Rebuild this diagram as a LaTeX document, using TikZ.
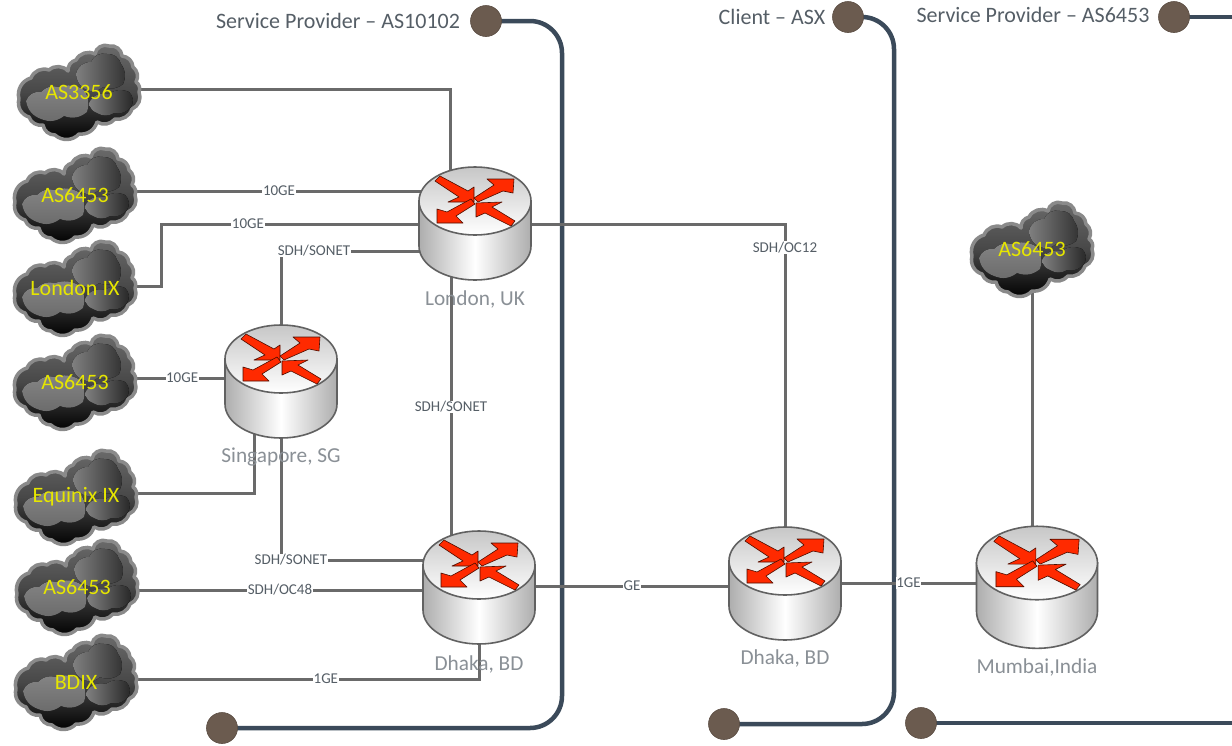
\documentclass[tikz,border=0pt]{standalone}
\usepackage{fontspec}
\setmainfont{Carlito}
\usetikzlibrary{backgrounds}
\definecolor{linkc}{HTML}{6A6A6A}
\definecolor{domc}{HTML}{3B4A5A}
\definecolor{dotc}{HTML}{6B5B4F}
\definecolor{arrowc}{HTML}{FF2A00}
\definecolor{yell}{HTML}{E6E600}
\definecolor{placec}{HTML}{8A9096}
\definecolor{headc}{HTML}{555E66}
\tikzset{
  link/.style={draw=linkc,line width=3pt},
  linklabel/.style={font=\fontsize{15}{16}\selectfont,text=headc,fill=white,inner sep=0.6pt},
  domline/.style={draw=domc,line width=4.5pt,rounded corners=32pt},
  dotn/.style={circle,fill=dotc,draw=dotc!85!black,line width=.6pt,minimum size=31pt,inner sep=0pt},
  headlabel/.style={font=\fontsize{22}{24}\selectfont,text=headc,inner sep=0pt},
  placelabel/.style={font=\fontsize{21.3}{24}\selectfont,text=placec,inner sep=0pt},
  cloudtext/.style={font=\fontsize{22}{24}\selectfont,text=yell,inner sep=0pt},
  arrowpoly/.style={fill=arrowc,draw=black!70!arrowc,line width=.6pt,line join=round},
  routerline/.style={draw=black!62,line width=1.6pt},
}
\newcommand{\routerart}[5]{%
 \begin{scope}[shift={(#2,#3)},xscale=#4,yscale=#4]
  \path[routerline,left color=black!32,right color=black!32,middle color=white]
    (-56,0) -- (-56,45) arc[start angle=180,end angle=0,x radius=56,y radius=34] -- (56,0) -- cycle;
  \path[routerline,top color=black!22,bottom color=white] (0,0) ellipse[x radius=56,y radius=34];
  \path[arrowpoly] (-40,-20) -- (-35,-25) -- (-7,-10) -- (-1,-14) -- (-1,1) -- (-27,1) -- (-16,-4) -- cycle;
  \path[arrowpoly] (3,1) -- (-1,-3) -- (19,-16) -- (12,-22) -- (39,-22) -- (38,-8) -- (28,-10) -- cycle;
  \path[arrowpoly] (-4,-2) -- (0,3) -- (-19,15) -- (-12,22) -- (-38,22) -- (-38,8) -- (-28,11) -- cycle;
  \path[arrowpoly] (40,20) -- (36,25) -- (10,12) -- (1,16) -- (1,2) -- (27,1) -- (17,6) -- cycle;
  \node[inner sep=0pt,minimum width=112pt,minimum height=68pt] (#1) at (0,0) {};
 \end{scope}
 \node[placelabel] (#1l) at (#2,#3+#5) {\addlabel};}
\newcommand{\addlabel}{}
\newcommand{\router}[6]{\renewcommand{\addlabel}{#6}\routerart{#1}{#2}{#3}{#4}{#5}}
\newcommand{\cloud}[4]{%
 \begin{scope}[shift={(#2,#3)}]
  \path[draw=black!46,line width=3.5pt,line join=round,top color=black!58,bottom color=black,middle color=black!72]
   (-60,7) to[bend left=45] (-48,-14) to[bend left=45] (-30,-22) to[bend left=45] (-11,-21)
   to[bend left=40] (-3,-32) to[bend left=45] (16,-38) to[bend left=55] (30,-46) to[bend left=50] (43,-36)
   to[bend left=40] (54,-25) to[bend left=40] (57,-10) to[bend left=40] (60,0) to[bend left=45] (53,17)
   to[bend left=40] (36,27) to[bend left=40] (18,30) to[bend left=40] (0,42) to[bend left=45] (-24,43)
   to[bend left=40] (-36,33) to[bend left=40] (-50,25) to[bend left=45] (-60,7);
  \fill[top color=black!48,bottom color=black!58]
   (-53,9) to[bend left=40] (-38,0) to[bend left=30] (-20,-5) to[bend left=25] (5,-2) to[bend left=25] (8,20)
   to[bend left=30] (-15,24) to[bend left=30] (-38,27) to[bend left=30] (-53,9);
  \fill[left color=black!50,right color=black!80]
   (-3,-18) to[bend left=40] (12,-30) to[bend left=40] (28,-38) to[bend left=40] (42,-28) to[bend left=30] (44,-8)
   to[bend left=30] (24,-5) to[bend left=30] (8,-2) to[bend left=30] (-3,-18);
  \fill[left color=black!50,right color=black!85]
   (10,11) to[bend left=40] (30,2) to[bend left=30] (50,0) to[bend left=40] (52,15) to[bend left=30] (35,21) to[bend left=30] (18,21) to[bend left=30] (10,11);
  \node[cloudtext] (#1) at (0,0) {#4};
 \end{scope}}
\begin{document}
\begin{tikzpicture}[x=1pt,y=-1pt]
\useasboundingbox (0,0) rectangle (1232,745);

% clouds
\cloud{c1}{79}{92}{AS3356}
\cloud{c2}{75}{195}{AS6453}
\cloud{c3}{75}{288}{London IX}
\cloud{c4}{75}{382}{AS6453}
\cloud{c5}{76}{497}{Equinix IX}
\cloud{c6}{77}{587}{AS6453}
\cloud{c7}{76}{682}{BDIX}
\cloud{c8}{1032}{249}{AS6453}

% routers
\router{r1}{475}{201}{1}{98}{London, UK}
\router{r2}{281}{359}{1}{98}{Singapore, SG}
\router{r3}{479}{565}{1}{99}{Dhaka, BD}
\router{r4}{785}{561}{1}{97}{Dhaka, BD}
\router{r5}{1037}{563}{1.08}{104}{Mumbai,India}

% domain headers
\node[headlabel] (h1) at (338,21) {Service Provider – AS10102};
\node[headlabel] (h2) at (772,17) {Client – ASX};
\node[headlabel] (h3) at (1033,15) {Service Provider – AS6453};

% domain end points
\coordinate (k1) at (562,21);
\coordinate (k2) at (562,728);
\coordinate (k3) at (894,17);
\coordinate (k4) at (894,724);
\coordinate (k5) at (1232,17);
\coordinate (k6) at (1232,723);
\node[dotn] (d1) at (486,21) {};
\node[dotn] (d2) at (222,728) {};
\node[dotn] (d3) at (848,17) {};
\node[dotn] (d4) at (724,724) {};
\node[dotn] (d5) at (1174,17) {};
\node[dotn] (d6) at (921,723) {};

\begin{scope}[on background layer]
 \fill[white] (0,0) rectangle (1232,745);
 \draw[domline] (d1.center) -- (k1) -- (k2) -- (d2.center);
 \draw[domline] (d3.center) -- (k3) -- (k4) -- (d4.center);
 \draw[domline] (d5.center) -- (k5);
 \draw[domline] (d6.center) -- (k6);

 \draw[link] ([yshift=3pt]c1.center) -| ([xshift=-25pt]r1.center);
 \draw[link] ([yshift=4pt]c2.center) -- node[linklabel,pos=.51] (t1) {10GE} ([yshift=10pt]r1.center);
 \coordinate (b3) at (161,224);
 \draw[link] ([yshift=2pt]c3.center) -| (b3) -- node[linklabel,pos=.277] (t2) {10GE} ([yshift=-23pt]r1.center);
 \draw[link] ([yshift=-50pt]r1.center) -| node[linklabel,pos=.415] (t3) {SDH/SONET} (r2.center);
 \draw[link] ([yshift=4pt]c4.center) -- node[linklabel,pos=.52] (t4) {10GE} ([yshift=-19pt]r2.center);
 \draw[link] ([yshift=4pt]c5.center) -| ([xshift=-27pt]r2.center);
 \draw[link] (r2.center) |- node[linklabel,pos=.525] (t5) {SDH/SONET} ([yshift=5pt]r3.center);
 \draw[link] ([yshift=-3pt]c6.center) -- node[linklabel,pos=.505] (t6) {SDH/OC48} ([yshift=-25pt]r3.center);
 \draw[link] ([yshift=3pt]c7.center) -| node[linklabel,pos=.31] (t7) {1GE} (r3.center);
 \draw[link] ([xshift=-24pt]r1.center) -- node[linklabel,pos=.565] (t8) {SDH/SONET} ([xshift=-28pt]r3.center);
 \draw[link] ([yshift=-23pt]r1.center) -| node[linklabel,pos=.535] (t9) {SDH/OC12} (r4.center);
 \draw[link] ([yshift=-21pt]r3.center) -- node[linklabel] (t10) {GE} ([yshift=-25pt]r4.center);
 \draw[link] ([yshift=-22pt]r4.center) -- node[linklabel,pos=.49] (t11) {1GE} ([yshift=-20pt]r5.center);
 \draw[link] ([xshift=0pt]c8.center) -- ([xshift=-5pt]r5.center);
\end{scope}
\end{tikzpicture}
\end{document}
